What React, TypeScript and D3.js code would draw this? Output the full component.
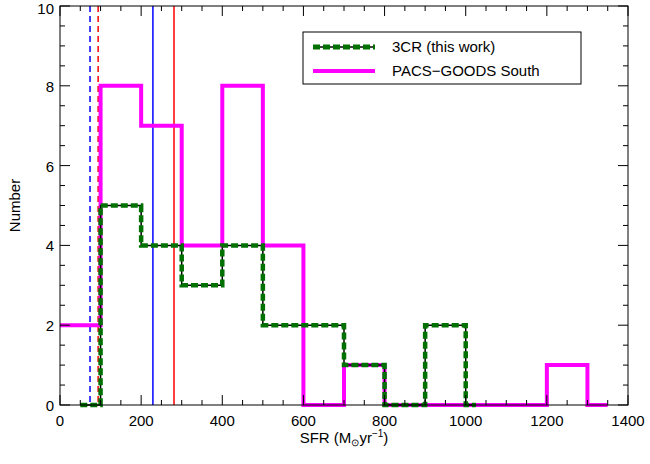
import React from 'react';
import * as d3 from 'd3';

// step edges and counts
const pacsEdges = [0, 100, 200, 300, 400, 500, 600, 700, 800, 900, 1000, 1100, 1200, 1300, 1350];
const pacsCounts = [2, 8, 7, 4, 8, 4, 0, 1, 0, 0, 0, 0, 1, 0];
const crEdges = [50, 100, 200, 300, 400, 500, 600, 700, 800, 900, 1000, 1025];
const crCounts = [0, 5, 4, 3, 4, 2, 2, 1, 0, 2, 0];
const xTicks = [0, 200, 400, 600, 800, 1000, 1200, 1400];
const yTicks = [0, 2, 4, 6, 8, 10];
const vlines = [
  { x: 74, color: '#0000ff', dash: '6,4' },
  { x: 94, color: '#ff0000', dash: '6,4' },
  { x: 229, color: '#0000ff', dash: '' },
  { x: 281, color: '#ff0000', dash: '' },
];

const L = 60, R = 628, T = 6, B = 405;
const x = d3.scaleLinear().domain([0, 1400]).range([L, R]);
const y = d3.scaleLinear().domain([0, 10]).range([B, T]);

function stepPath(edges: number[], counts: number[]) {
  const pts: [number, number][] = [];
  counts.forEach((c, i) => {
    pts.push([x(edges[i]), y(c)]);
    pts.push([x(edges[i + 1]), y(c)]);
  });
  return d3.line()(pts) as string;
}

export default function App() {
  const font = 'Liberation Sans, Arial, sans-serif';
  const minorX = d3.range(0, 1401, 50);
  const minorY = d3.range(0, 10.01, 0.5);
  return (
    <svg width={650} height={464} style={{ position: 'absolute', left: 0, top: 0, background: '#fff' }} fontFamily={font}>
      <defs>
        <clipPath id="c"><rect x={L} y={T} width={R - L} height={B - T + 3} /></clipPath>
      </defs>
      <g clipPath="url(#c)">
        {vlines.map((v, i) => (
          <line key={i} x1={x(v.x)} x2={x(v.x)} y1={T} y2={B} stroke={v.color} strokeWidth={1.5} strokeDasharray={v.dash || undefined} />
        ))}
        <path d={stepPath(pacsEdges, pacsCounts)} fill="none" stroke="#ff00ff" strokeWidth={4} />
        <path d={stepPath(crEdges, crCounts)} fill="none" stroke="#000" strokeWidth={1.5} />
        <path d={stepPath(crEdges, crCounts)} fill="none" stroke="#007000" strokeWidth={4.5} strokeDasharray="7,3" />
      </g>
      <rect x={L} y={T} width={R - L} height={B - T} fill="none" stroke="#000" strokeWidth={1} />
      {minorX.map(v => {
        const major = v % 200 === 0;
        const len = major ? 10 : 5;
        return (
          <g key={v}>
            <line x1={x(v)} x2={x(v)} y1={B} y2={B - len} stroke="#000" />
            <line x1={x(v)} x2={x(v)} y1={T} y2={T + len} stroke="#000" />
          </g>
        );
      })}
      {minorY.map(v => {
        const major = Math.abs(v % 2) < 1e-6;
        const len = major ? 10 : 5;
        return (
          <g key={v}>
            <line x1={L} x2={L + len} y1={y(v)} y2={y(v)} stroke="#000" />
            <line x1={R} x2={R - len} y1={y(v)} y2={y(v)} stroke="#000" />
          </g>
        );
      })}
      {xTicks.map(v => (
        <text key={v} x={x(v)} y={B + 21} textAnchor="middle" fontSize={15}>{v}</text>
      ))}
      {yTicks.map(v => (
        <text key={v} x={L - 6} y={Math.max(y(v) + 6, 14)} textAnchor="end" fontSize={15}>{v}</text>
      ))}
      <text x={(L + R) / 2} y={443} textAnchor="middle" fontSize={15}>
        SFR (M<tspan fontSize={10} dy={3}>⊙</tspan><tspan dy={-3}>yr</tspan><tspan fontSize={10} dy={-6}>−1</tspan><tspan dy={6}>)</tspan>
      </text>
      <text transform={`translate(20,${(T + B) / 2}) rotate(-90)`} textAnchor="middle" fontSize={15}>Number</text>
      <rect x={303} y={32} width={278} height={52} fill="#fff" stroke="#000" />
      <line x1={313} x2={375} y1={47} y2={47} stroke="#000" strokeWidth={1.5} />
      <line x1={313} x2={375} y1={47} y2={47} stroke="#007000" strokeWidth={5} strokeDasharray="7,3" />
      <text x={392} y={52} fontSize={15}>3CR (this work)</text>
      <line x1={313} x2={375} y1={71} y2={71} stroke="#ff00ff" strokeWidth={4} />
      <text x={392} y={76} fontSize={15}>PACS−GOODS South</text>
    </svg>
  );
}
